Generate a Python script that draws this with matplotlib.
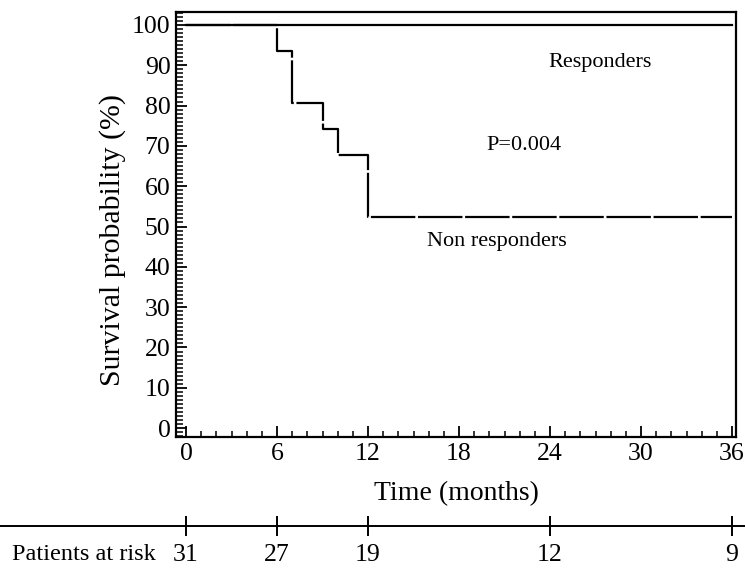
import matplotlib
matplotlib.use("Agg")
import matplotlib.pyplot as plt
from matplotlib.ticker import MultipleLocator

plt.rcParams['font.family'] = ['Liberation Serif', 'DejaVu Serif']

# Kaplan-Meier style data
resp_time = [0, 36]
resp_surv = [100, 100]
nonresp_time = [0, 6, 7, 9, 10, 12, 36]
nonresp_surv = [100, 93.5, 80.6, 74.2, 67.7, 52.3, 52.3]

risk_time = [0, 6, 12, 24, 36]
risk_count = [31, 27, 19, 12, 9]

x_ticks = [0, 6, 12, 18, 24, 30, 36]
y_ticks = list(range(0, 101, 10))

W, H = 745, 574
fig = plt.figure(figsize=(W / 100, H / 100), dpi=100)

# main axes, placed by pixel box
left, right, top, bottom = 176, 736, 12, 437
ax = fig.add_axes([left / W, 1 - bottom / H, (right - left) / W, (bottom - top) / H])
xlim = (-0.66, 36.26)
ax.set_xlim(*xlim)
ax.set_ylim(-2.2, 103.2)

ax.plot(resp_time, resp_surv, color='black', lw=1.6, drawstyle='steps-post')
ax.plot(nonresp_time, nonresp_surv, color='black', lw=1.6, drawstyle='steps-post',
        dashes=(20, 1.2))

ax.text(27.3, 90.8, 'Responders', ha='center', va='center', fontsize=16)
ax.text(22.3, 70.2, 'P=0.004', ha='center', va='center', fontsize=16)
ax.text(20.5, 46.2, 'Non responders', ha='center', va='center', fontsize=16)

ax.set_xticks(x_ticks)
ax.set_yticks(y_ticks)
ax.xaxis.set_minor_locator(MultipleLocator(1))
ax.yaxis.set_minor_locator(MultipleLocator(1))
ax.tick_params(axis='both', which='major', direction='in', length=8, width=1.3,
               labelsize=18.5, pad=4)
ax.tick_params(axis='y', which='minor', direction='in', length=5, width=1.1)
ax.tick_params(axis='x', which='minor', direction='in', length=4, width=1.1)
for s in ax.spines.values():
    s.set_linewidth(1.6)

ax.set_xlabel('Time (months)', fontsize=20)
ax.set_ylabel('Survival probability (%)', fontsize=21.5)
ax.xaxis.set_label_coords(0.5, (bottom - 481) / (bottom - top))
ax.yaxis.set_label_coords((126 - left) / (right - left), (bottom - 240) / (bottom - top))

# patients at risk strip, same x mapping as main axes
ppm = (right - left) / (xlim[1] - xlim[0])
rx0 = xlim[0] - left / ppm
rx1 = xlim[1] + (W - right) / ppm
rax = fig.add_axes([0, 0, 1, 1 - 500 / H])
rax.set_xlim(rx0, rx1)
rax.set_ylim(0, 74)
rax.axis('off')
line_y = 574 - 526
rax.plot([rx0, rx1], [line_y, line_y], color='black', lw=1.4)
rax.plot(risk_time, [line_y] * len(risk_time), ls='none', marker='|',
         markersize=14, mew=1.4, color='black')
for t, n in zip(risk_time, risk_count):
    rax.text(t, 574 - 555, str(n), ha='center', va='center', fontsize=18.5)
rax.text(rx0 + 12 / ppm, 574 - 555, 'Patients at risk', ha='left', va='center',
         fontsize=17.5)

fig.savefig('out.png', dpi=100)
